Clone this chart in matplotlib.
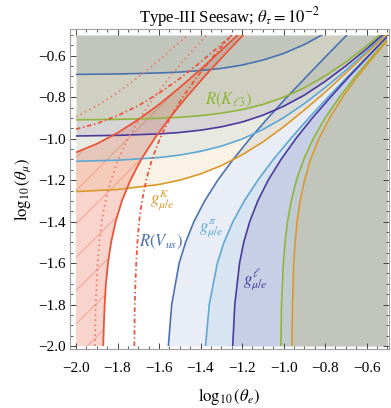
import matplotlib
matplotlib.use('Agg')
import matplotlib.pyplot as plt
from matplotlib.patches import Rectangle
from matplotlib.ticker import MultipleLocator

# ---- data (log10 theta values) ----
# upper (horizontal-ish) boundaries, sampled on x_grid  -> y values
x_grid = [-2.0, -1.8, -1.6, -1.5, -1.4, -1.3, -1.2, -1.1, -1.0, -0.9, -0.8, -0.7, -0.6, -0.5]
vus_upper = [-0.690, -0.688, -0.683, -0.679, -0.671, -0.661, -0.645, -0.621, -0.589, -0.546, -0.491]
gpi_upper = [-1.109, -1.104, -1.091, -1.079, -1.061, -1.036, -1.002, -0.956, -0.899, -0.831, -0.754, -0.670, -0.580, -0.487]
gl_upper = [-0.987, -0.984, -0.977, -0.970, -0.959, -0.943, -0.920, -0.887, -0.844, -0.790, -0.724, -0.649, -0.567, -0.478]
rk3_upper = [-0.909, -0.907, -0.902, -0.897, -0.889, -0.877, -0.860, -0.835, -0.800, -0.755, -0.698, -0.630, -0.553, -0.469]
gK_upper = [-1.255, -1.245, -1.221, -1.200, -1.170, -1.130, -1.078, -1.016, -0.943, -0.862, -0.776, -0.684, -0.590, -0.494]

# right (vertical-ish) boundaries, sampled on y_grid -> x values
y_grid = [-2.0, -1.8, -1.6, -1.5, -1.4, -1.3, -1.2, -1.1, -1.0, -0.9, -0.8, -0.7, -0.6, -0.5]
vus_lower = [-1.555, -1.539, -1.503, -1.472, -1.432, -1.380, -1.317, -1.243, -1.162, -1.075, -0.984, -0.889, -0.793, -0.695]
gpi_lower = [-1.376, -1.358, -1.319, -1.287, -1.244, -1.189, -1.124, -1.049, -0.966, -0.878, -0.786, -0.691, -0.594, -0.496]
gl_lower = [-1.245, -1.235, -1.212, -1.192, -1.163, -1.124, -1.074, -1.012, -0.941, -0.861, -0.774, -0.684, -0.589, -0.493]
rk3_lower = [-1.013, -1.010, -1.001, -0.993, -0.981, -0.963, -0.938, -0.903, -0.857, -0.800, -0.731, -0.654, -0.570, -0.481]
gK_lower = [-0.960, -0.957, -0.951, -0.944, -0.935, -0.920, -0.899, -0.870, -0.830, -0.778, -0.716, -0.643, -0.562, -0.476]

# red curves (solid band, dotted, dot-dashed)
red_x_up = [-2.0, -1.9, -1.8, -1.7, -1.6, -1.5, -1.4, -1.3]
solid_up_x = red_x_up + [-1.221]
solid_up_y = [-1.066, -1.025, -0.972, -0.908, -0.835, -0.753, -0.666, -0.574, -0.5]
dotted_up_x = red_x_up[:6] + [-1.462]
dotted_up_y = [-0.895, -0.842, -0.778, -0.704, -0.622, -0.534, -0.5]
dashdot_up_x = red_x_up + [-1.249]
dashdot_up_y = [-0.954, -0.927, -0.889, -0.841, -0.780, -0.710, -0.631, -0.546, -0.5]

red_y = [-2.0, -1.9, -1.8, -1.7, -1.6, -1.5, -1.4, -1.3, -1.2, -1.1, -1.0, -0.9, -0.8, -0.7, -0.6, -0.5]
solid_side = [-1.869, -1.866, -1.862, -1.856, -1.846, -1.831, -1.809, -1.779, -1.738, -1.686, -1.622, -1.549, -1.468, -1.381, -1.289, -1.195]
dotted_side = [-1.908, -1.907, -1.905, -1.901, -1.896, -1.888, -1.876, -1.858, -1.832, -1.797, -1.750, -1.692, -1.624, -1.546, -1.462, -1.372]
dashdot_side = [-1.719, -1.718, -1.717, -1.714, -1.710, -1.704, -1.696, -1.682, -1.662, -1.634, -1.596, -1.547, -1.486, -1.415, -1.336, -1.250]

plt.rcParams['font.family'] = ['Liberation Serif', 'DejaVu Serif']
plt.rcParams['mathtext.fontset'] = 'stix'
plt.rcParams['hatch.linewidth'] = 0.8

c_vus = '#4a72b0'
c_pi = '#5ea8d6'
c_l = '#4a3a9c'
c_k3 = '#8fb53a'
c_K = '#d99a2b'
c_red = '#ea553a'

fig = plt.figure(figsize=(3.91, 4.08), dpi=100)
ax = fig.add_axes([70/391, 1-349/408, 319/391, 320/408])

clip = Rectangle((-2, -2), 1.5, 1.5, transform=ax.transData)
artists = []

# red allowed band (below solid upper curve, left of solid side curve)
poly_x = [-2.0] + solid_up_x + solid_side[::-1]
poly_y = [-2.0] + solid_up_y + red_y[::-1]
artists += ax.fill(poly_x, poly_y, color=c_red, alpha=0.25, lw=0)
artists += ax.fill(poly_x, poly_y, facecolor='none', edgecolor=c_red, alpha=0.35, hatch='/', lw=0)

constraints = [
    (vus_upper, vus_lower, c_vus),
    (gpi_upper, gpi_lower, c_pi),
    (gl_upper, gl_lower, c_l),
    (rk3_upper, rk3_lower, c_k3),
    (gK_upper, gK_lower, c_K),
]
for upper, lower, col in constraints:
    xs = x_grid[:len(upper)]
    artists.append(ax.fill_between(xs, upper, -0.5, color=col, alpha=0.12, lw=0))
    artists.append(ax.fill_betweenx(y_grid, lower, -0.5, color=col, alpha=0.12, lw=0))

for upper, lower, col in constraints:
    xs = x_grid[:len(upper)]
    artists += ax.plot(xs, upper, color=col, lw=1.2)
    artists += ax.plot(lower, y_grid, color=col, lw=1.2)

# red lines
artists += ax.plot(solid_up_x, solid_up_y, color=c_red, lw=1.3)
artists += ax.plot(solid_side, red_y, color=c_red, lw=1.3)
artists += ax.plot(dotted_up_x, dotted_up_y, color='#f07a66', lw=1.2, ls=(0, (1, 2)))
artists += ax.plot(dotted_side, red_y, color='#f07a66', lw=1.2, ls=(0, (1, 2)))
artists += ax.plot(dashdot_up_x, dashdot_up_y, color=c_red, lw=1.3, ls=(0, (2.5, 1.5, 0.8, 1.5)))
artists += ax.plot(dashdot_side, red_y, color=c_red, lw=1.3, ls=(0, (2.5, 1.5, 0.8, 1.5)))

for a in artists:
    a.set_clip_path(clip)

# labels
ax.text(-1.263, -0.814, r'$R(K_{\ell 3})$', color=c_k3, fontsize=12, ha='center', va='center')
ax.text(-1.586, -1.296, r'$g^{K}_{\mu/e}$', color=c_K, fontsize=12, ha='center', va='center')
ax.text(-1.590, -1.499, r'$R(V_{us})$', color=c_vus, fontsize=12, ha='center', va='center')
ax.text(-1.349, -1.431, r'$g^{\pi}_{\mu/e}$', color=c_pi, fontsize=12, ha='center', va='center')
ax.text(-1.137, -1.682, r'$g^{\ell}_{\mu/e}$', color=c_l, fontsize=12, ha='center', va='center')

ax.set_xlim(-2.029, -0.492)
ax.set_ylim(-2.0145, -0.471)
ax.xaxis.set_major_locator(MultipleLocator(0.2))
ax.yaxis.set_major_locator(MultipleLocator(0.2))
ax.xaxis.set_minor_locator(MultipleLocator(0.05))
ax.yaxis.set_minor_locator(MultipleLocator(0.05))
ax.tick_params(which='both', direction='in', top=True, right=True, color='#444444', labelsize=11)
ax.tick_params(which='major', length=4, width=0.7)
ax.tick_params(which='minor', length=2, width=0.6)
ax.tick_params(axis='x', pad=9)
ax.tick_params(axis='y', pad=3)
for s in ax.spines.values():
    s.set_color('#a0a0a0')
    s.set_linewidth(0.8)

ax.set_xlabel(r'$\log_{10}(\theta_e)$', fontsize=12, labelpad=8)
ax.set_ylabel(r'$\log_{10}(\theta_\mu)$', fontsize=12)
ax.set_title(r'Type-III Seesaw; $\theta_\tau = 10^{-2}$', fontsize=12, pad=4)

fig.savefig('out.png', dpi=100)
